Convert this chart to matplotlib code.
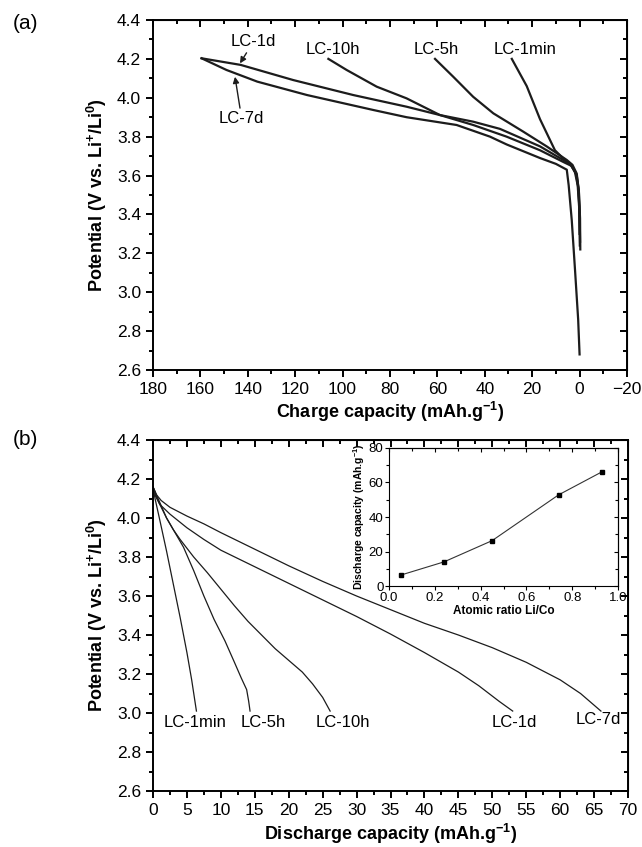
import numpy as np
import matplotlib
matplotlib.use('Agg')
import matplotlib.pyplot as plt
from matplotlib.ticker import MultipleLocator, FormatStrFormatter

plt.rcParams['font.family'] = ['Liberation Sans', 'DejaVu Sans']
plt.rcParams['mathtext.default'] = 'regular'

# ---- panel (a): charge curves (capacity mAh/g, potential V) ----
a_1min_cap = [-0.1, 0.0, 0.3, 1.2, 3.3, 5.4, 10.4, 16.7, 22.3, 28.6]
a_1min_v = [3.24, 3.40, 3.52, 3.60, 3.65, 3.67, 3.73, 3.89, 4.06, 4.20]

a_5h_cap = [-0.3, -0.2, 0.3, 1.2, 3.0, 5.4, 13.9, 23.8, 36.4, 44.9, 53.3, 61.0]
a_5h_v = [3.22, 3.38, 3.52, 3.61, 3.655, 3.68, 3.75, 3.826, 3.92, 4.005, 4.108, 4.20]

a_10h_cap = [-0.2, 0.0, 0.6, 1.5, 3.5, 6.9, 16.7, 30.8, 44.9, 58.9, 73.0, 85.6, 98.3, 106.0]
a_10h_v = [3.26, 3.42, 3.54, 3.61, 3.65, 3.67, 3.73, 3.80, 3.86, 3.911, 3.997, 4.057, 4.143, 4.20]

a_1d_cap = [0.0, 0.2, 0.8, 2.0, 4.0, 6.9, 16.7, 33.6, 44.9, 58.9, 73.0, 95.5, 120.8, 143.0, 159.5]
a_1d_v = [3.30, 3.44, 3.55, 3.62, 3.66, 3.68, 3.75, 3.84, 3.877, 3.911, 3.954, 4.014, 4.091, 4.169, 4.203]

a_7d_cap = [0.0, 0.6, 1.9, 3.3, 4.6, 5.4, 10.0, 16.7, 30.8, 37.8, 51.9, 73.0, 87.0, 115.0, 136.0, 149.0, 159.5]
a_7d_v = [2.68, 2.86, 3.11, 3.37, 3.55, 3.63, 3.66, 3.69, 3.76, 3.80, 3.86, 3.90, 3.937, 4.014, 4.083, 4.143, 4.203]

# ---- panel (b): discharge curves ----
b_1min_cap = [0.0, 0.3, 1.0, 2.0, 3.0, 4.0, 5.0, 5.7, 6.4]
b_1min_v = [4.16, 4.10, 3.99, 3.83, 3.66, 3.49, 3.31, 3.17, 3.01]

b_5h_cap = [0.0, 0.5, 1.0, 2.0, 3.0, 4.5, 6.0, 7.5, 9.0, 10.6, 12.0, 13.0, 13.8, 14.1, 14.3]
b_5h_v = [4.16, 4.11, 4.07, 4.00, 3.94, 3.85, 3.73, 3.60, 3.48, 3.37, 3.26, 3.18, 3.12, 3.06, 3.01]

b_10h_cap = [0.0, 0.5, 1.0, 2.0, 3.0, 4.0, 6.0, 8.0, 10.0, 12.0, 14.0, 16.0, 18.0, 20.0, 22.0, 23.5, 25.0, 26.1]
b_10h_v = [4.16, 4.12, 4.08, 4.00, 3.94, 3.89, 3.80, 3.72, 3.635, 3.55, 3.47, 3.40, 3.33, 3.27, 3.21, 3.15, 3.08, 3.01]

b_1d_cap = [0.0, 0.4, 1.0, 2.5, 5.0, 7.5, 10.0, 15.0, 20.0, 25.0, 30.0, 35.0, 40.0, 45.0, 48.0, 51.0, 53.0]
b_1d_v = [4.16, 4.11, 4.07, 4.02, 3.95, 3.89, 3.835, 3.75, 3.665, 3.58, 3.495, 3.405, 3.31, 3.21, 3.14, 3.06, 3.01]

b_7d_cap = [0.0, 0.5, 1.2, 2.5, 5.0, 7.5, 10.0, 15.0, 20.0, 25.0, 30.0, 35.0, 40.0, 45.0, 50.0, 55.0, 60.0, 63.0, 66.0]
b_7d_v = [4.16, 4.12, 4.09, 4.055, 4.01, 3.97, 3.925, 3.84, 3.755, 3.675, 3.60, 3.53, 3.46, 3.40, 3.335, 3.26, 3.17, 3.10, 3.01]

# inset: discharge capacity vs Li/Co ratio
ratio = [0.05, 0.24, 0.45, 0.74, 0.93]
dis_cap = [6.3, 14.0, 26.3, 52.8, 66.2]

lc = '#1c1c1c'
fs = 12.5

fig = plt.figure(figsize=(6.42, 8.47), dpi=100)


def style(ax, xmaj, xmin, ymaj, ymin, size=fs, lw=1.4, L=5, l=3):
    ax.tick_params(which='both', direction='out', labelsize=size, width=lw)
    ax.tick_params(which='major', length=L)
    ax.tick_params(which='minor', length=l)
    for s in ax.spines.values():
        s.set_linewidth(lw)
    ax.xaxis.set_major_locator(MultipleLocator(xmaj))
    ax.xaxis.set_minor_locator(MultipleLocator(xmin))
    ax.yaxis.set_major_locator(MultipleLocator(ymaj))
    ax.yaxis.set_minor_locator(MultipleLocator(ymin))
    # mirrored inward ticks on top/right
    sx = ax.secondary_xaxis('top')
    sx.xaxis.set_major_locator(MultipleLocator(xmaj))
    sx.xaxis.set_minor_locator(MultipleLocator(xmin))
    sx.tick_params(which='both', direction='in', labeltop=False, width=lw)
    sx.tick_params(which='major', length=L)
    sx.tick_params(which='minor', length=l)
    sy = ax.secondary_yaxis('right')
    sy.yaxis.set_major_locator(MultipleLocator(ymaj))
    sy.yaxis.set_minor_locator(MultipleLocator(ymin))
    sy.tick_params(which='both', direction='in', labelright=False, width=lw)
    sy.tick_params(which='major', length=L)
    sy.tick_params(which='minor', length=l)


# ---------- (a) ----------
ax1 = fig.add_axes([0.2383, 0.5632, 0.7383, 0.4132])
ax1.plot(a_1min_cap, a_1min_v, color=lc, lw=1.6)
ax1.plot(a_5h_cap, a_5h_v, color=lc, lw=1.6)
ax1.plot(a_10h_cap, a_10h_v, color=lc, lw=1.6)
ax1.plot(a_1d_cap, a_1d_v, color=lc, lw=1.6)
ax1.plot(a_7d_cap, a_7d_v, color=lc, lw=1.6)
ax1.set_xlim(180, -20)
ax1.set_ylim(2.6, 4.4)
style(ax1, 20, 10, 0.2, 0.1)
ax1.yaxis.set_major_formatter(FormatStrFormatter('%.1f'))
ax1.set_xlabel('Charge capacity (mAh.g$^{-1}$)', fontsize=13, fontweight='bold', labelpad=2)
ax1.set_ylabel('Potential (V vs. Li$^{+}$/Li$^{0}$)', fontsize=13, fontweight='bold', labelpad=6)

ax1.text(104, 4.25, 'LC-10h', fontsize=12, ha='center', va='center')
ax1.text(60.3, 4.25, 'LC-5h', fontsize=12, ha='center', va='center')
ax1.text(23, 4.25, 'LC-1min', fontsize=12, ha='center', va='center')
ax1.annotate('LC-1d', xy=(143.3, 4.177), xytext=(137.5, 4.29), fontsize=12,
             ha='center', va='center',
             arrowprops=dict(arrowstyle='-|>', color=lc, lw=1.0, mutation_scale=9, shrinkA=1, shrinkB=0))
ax1.annotate('LC-7d', xy=(145.4, 4.108), xytext=(142.6, 3.894), fontsize=12,
             ha='center', va='center',
             arrowprops=dict(arrowstyle='-|>', color=lc, lw=1.0, mutation_scale=9, shrinkA=0, shrinkB=0))
fig.text(0.039, 0.972, '(a)', fontsize=15, ha='center', va='center')

# ---------- (b) ----------
ax2 = fig.add_axes([0.2383, 0.0661, 0.74, 0.4144])
ax2.plot(b_1min_cap, b_1min_v, color=lc, lw=0.9)
ax2.plot(b_5h_cap, b_5h_v, color=lc, lw=0.9)
ax2.plot(b_10h_cap, b_10h_v, color=lc, lw=0.9)
ax2.plot(b_1d_cap, b_1d_v, color=lc, lw=0.9)
ax2.plot(b_7d_cap, b_7d_v, color=lc, lw=0.9)
ax2.set_xlim(0, 70)
ax2.set_ylim(2.6, 4.4)
style(ax2, 5, 2.5, 0.2, 0.1)
ax2.yaxis.set_major_formatter(FormatStrFormatter('%.1f'))
ax2.set_xlabel('Discharge capacity (mAh.g$^{-1}$)', fontsize=13, fontweight='bold', labelpad=3)
ax2.set_ylabel('Potential (V vs. Li$^{+}$/Li$^{0}$)', fontsize=13, fontweight='bold', labelpad=6)

ax2.text(6.2, 2.95, 'LC-1min', fontsize=12, ha='center', va='center')
ax2.text(16.2, 2.95, 'LC-5h', fontsize=12, ha='center', va='center')
ax2.text(28.0, 2.95, 'LC-10h', fontsize=12, ha='center', va='center')
ax2.text(53.3, 2.95, 'LC-1d', fontsize=12, ha='center', va='center')
ax2.text(65.6, 2.965, 'LC-7d', fontsize=12, ha='center', va='center')
fig.text(0.039, 0.481, '(b)', fontsize=15, ha='center', va='center')

# ---------- inset ----------
ax3 = fig.add_axes([0.606, 0.3081, 0.3567, 0.163])
ax3.plot(ratio, dis_cap, color='#333333', lw=0.8, marker='s', ms=3, mfc='black', mec='black')
ax3.set_xlim(0, 1.0)
ax3.set_ylim(0, 80)
style(ax3, 0.2, 0.1, 20, 10, size=9.5, lw=0.8, L=3, l=2)
ax3.tick_params(which='both', pad=1)
ax3.xaxis.set_major_formatter(FormatStrFormatter('%.1f'))
ax3.set_xlabel('Atomic ratio Li/Co', fontsize=8.5, fontweight='bold', labelpad=1)
ax3.set_ylabel('Discharge capacity (mAh.g$^{-1}$)', fontsize=7.5, fontweight='bold', labelpad=1)

fig.savefig('out.png', dpi=100)
